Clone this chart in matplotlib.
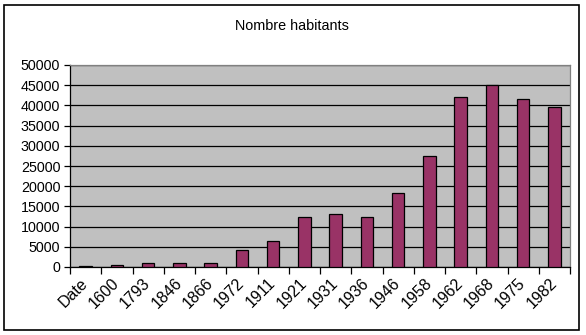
import matplotlib
matplotlib.use("Agg")
import matplotlib.pyplot as plt
from matplotlib.patches import Rectangle
import numpy as np

categories = ["Date", "1600", "1793", "1846", "1866", "1972", "1911", "1921",
              "1931", "1936", "1946", "1958", "1962", "1968", "1975", "1982"]
values = [300, 600, 1000, 1000, 1000, 4300, 6500, 12300,
          13000, 12500, 18300, 27500, 42200, 45000, 41600, 39600]
yticks = list(range(0, 50001, 5000))

plt.rcParams['font.family'] = ['Liberation Sans', 'DejaVu Sans']

W, H = 586, 335
fig = plt.figure(figsize=(W / 100, H / 100), dpi=100)
fig.patch.set_facecolor("white")

# outer chart border
fig.patches.append(Rectangle((4 / W, (H - 330) / H), (579 - 4) / W, (330 - 5) / H,
                             transform=fig.transFigure, fill=False,
                             edgecolor="black", linewidth=1.2))

ax = fig.add_axes([70 / W, (H - 267) / H, 500 / W, 202 / H])
ax.set_facecolor("#C0C0C0")

x = np.arange(len(categories))
ax.bar(x, values, width=0.4, color="#993366", edgecolor="black", linewidth=0.9, zorder=3)

ax.set_xlim(-0.5, len(categories) - 0.5)
ax.set_ylim(0, 50000)
ax.set_yticks(yticks)
ax.set_yticklabels([str(v) for v in yticks], fontsize=10.3)
ax.yaxis.grid(True, color="black", linewidth=0.9, zorder=1)
ax.set_axisbelow(True)

ax.set_xticks(x)
ax.set_xticklabels(categories, fontsize=11.5, rotation=45, ha="right",
                   va="center", rotation_mode="anchor")
ax.tick_params(axis="x", which="major", length=0, pad=10)
ax.set_xticks(np.arange(len(categories) + 1) - 0.5, minor=True)
ax.tick_params(axis="x", which="minor", length=5, width=0.9, direction="out")
ax.tick_params(axis="y", length=4, width=0.9, direction="out", pad=3)

for s in ["left", "bottom"]:
    ax.spines[s].set_color("black")
    ax.spines[s].set_linewidth(0.9)
for s in ["top", "right"]:
    ax.spines[s].set_color("#808080")
    ax.spines[s].set_linewidth(0.9)

fig.text(292 / W, (H - 26) / H, "Nombre habitants", ha="center", va="center", fontsize=10.4)

fig.savefig("out.png", dpi=100)
